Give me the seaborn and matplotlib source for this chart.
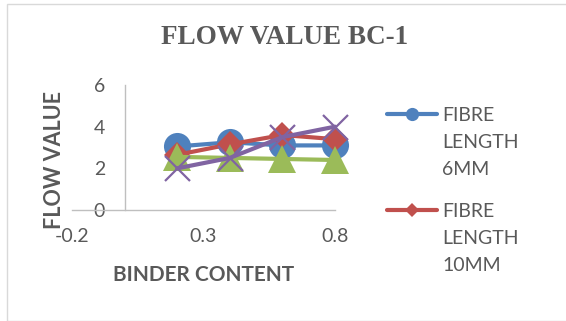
import matplotlib
matplotlib.use("Agg")
import matplotlib.pyplot as plt
from matplotlib.lines import Line2D
from matplotlib.patches import Rectangle
import seaborn as sns
import pandas as pd

# Flow value against binder content for each fibre length
binder_content = [0.2, 0.4, 0.6, 0.8]
fibre_6mm = [3.05, 3.25, 3.1, 3.1]
fibre_10mm = [2.65, 3.15, 3.6, 3.4]
third_series = [2.55, 2.5, 2.45, 2.4]
fourth_series = [2.0, 2.5, 3.5, 4.0]

legend_labels = ["FIBRE\nLENGTH\n6MM", "FIBRE\nLENGTH\n10MM"]
x_ticks = [-0.2, 0.3, 0.8]
y_ticks = [0, 2, 4, 6]

sns.set_theme(style="white")
plt.rcParams["font.family"] = ["Lato", "DejaVu Sans"]

TEXT = "#595959"
AXIS = "#BFBFBF"
colors = ["#4F81BD", "#C0504D", "#9BBB59", "#8064A2"]

df = pd.DataFrame({
    "binder": binder_content,
    "s1": fibre_6mm,
    "s2": fibre_10mm,
    "s3": third_series,
    "s4": fourth_series,
})

fig = plt.figure(figsize=(5.66, 3.21), dpi=100)
ax = fig.add_axes([72 / 566, 1 - 210 / 321, (335 - 72) / 566, (210 - 85) / 321])

styles = [
    dict(marker="o", markersize=19.5, markeredgewidth=0),
    dict(marker="D", markersize=13.5, markeredgewidth=0),
    dict(marker="^", markersize=19.5, markeredgewidth=0),
    dict(marker="x", markersize=18, markeredgewidth=1.6),
]
for col, color, st in zip(["s1", "s2", "s3", "s4"], colors, styles):
    sns.lineplot(data=df, x="binder", y=col, ax=ax, color=color,
                 linewidth=3.0, markeredgecolor=color, errorbar=None, **st)

for line in ax.lines:
    line.set_clip_on(False)

ax.set_xlim(-0.2, 0.8)
ax.set_ylim(0, 6)
ax.set_xticks(x_ticks)
ax.set_xticklabels(["-0.2", "0.3", "0.8"])
ax.set_yticks(y_ticks)

for s in ["top", "right"]:
    ax.spines[s].set_visible(False)
ax.spines["left"].set_position(("data", 0))
ax.spines["left"].set_color(AXIS)
ax.spines["bottom"].set_color(AXIS)
ax.spines["left"].set_linewidth(1.0)
ax.spines["bottom"].set_linewidth(1.0)

ax.tick_params(axis="both", length=0, labelsize=14, labelcolor=TEXT)
ax.tick_params(axis="y", pad=14)
ax.tick_params(axis="x", pad=13)

ax.set_xlabel("BINDER CONTENT", fontsize=15, fontweight="bold", color=TEXT, va="center")
ax.xaxis.set_label_coords(0.5, -0.52)
ax.set_ylabel("FLOW VALUE", fontsize=15.5, fontweight="bold", color=TEXT, va="center")
ax.yaxis.set_label_coords(-0.068, 0.4)

fig.text(285 / 566, 1 - 38 / 321, "FLOW VALUE BC-1", ha="center", va="center",
         fontsize=19.5, fontweight="bold", color=TEXT, family="Liberation Serif")

# Legend: only the first two entries fit in the chart area
legend_marks = [dict(marker="o", markersize=9.5), dict(marker="D", markersize=7.5)]
for i, (label, color, mk) in enumerate(zip(legend_labels, colors, legend_marks)):
    yc = 1 - (114 + 96 * i) / 321
    fig.add_artist(Line2D([387 / 566, 437 / 566], [yc, yc], transform=fig.transFigure,
                          color=color, linewidth=3.0))
    fig.add_artist(Line2D([412 / 566], [yc], transform=fig.transFigure, color=color,
                          markeredgewidth=0, linestyle="none", **mk))
    fig.text(442 / 566, yc + 7 / 321, label, ha="left", va="top", fontsize=14,
             color=TEXT, linespacing=1.7)

fig.add_artist(Rectangle((6.5 / 566, 1 - 320.5 / 321), 1.0, 317 / 321,
                         transform=fig.transFigure, fill=False,
                         edgecolor="#D9D9D9", linewidth=1.0))

fig.savefig("out.png", dpi=100)
